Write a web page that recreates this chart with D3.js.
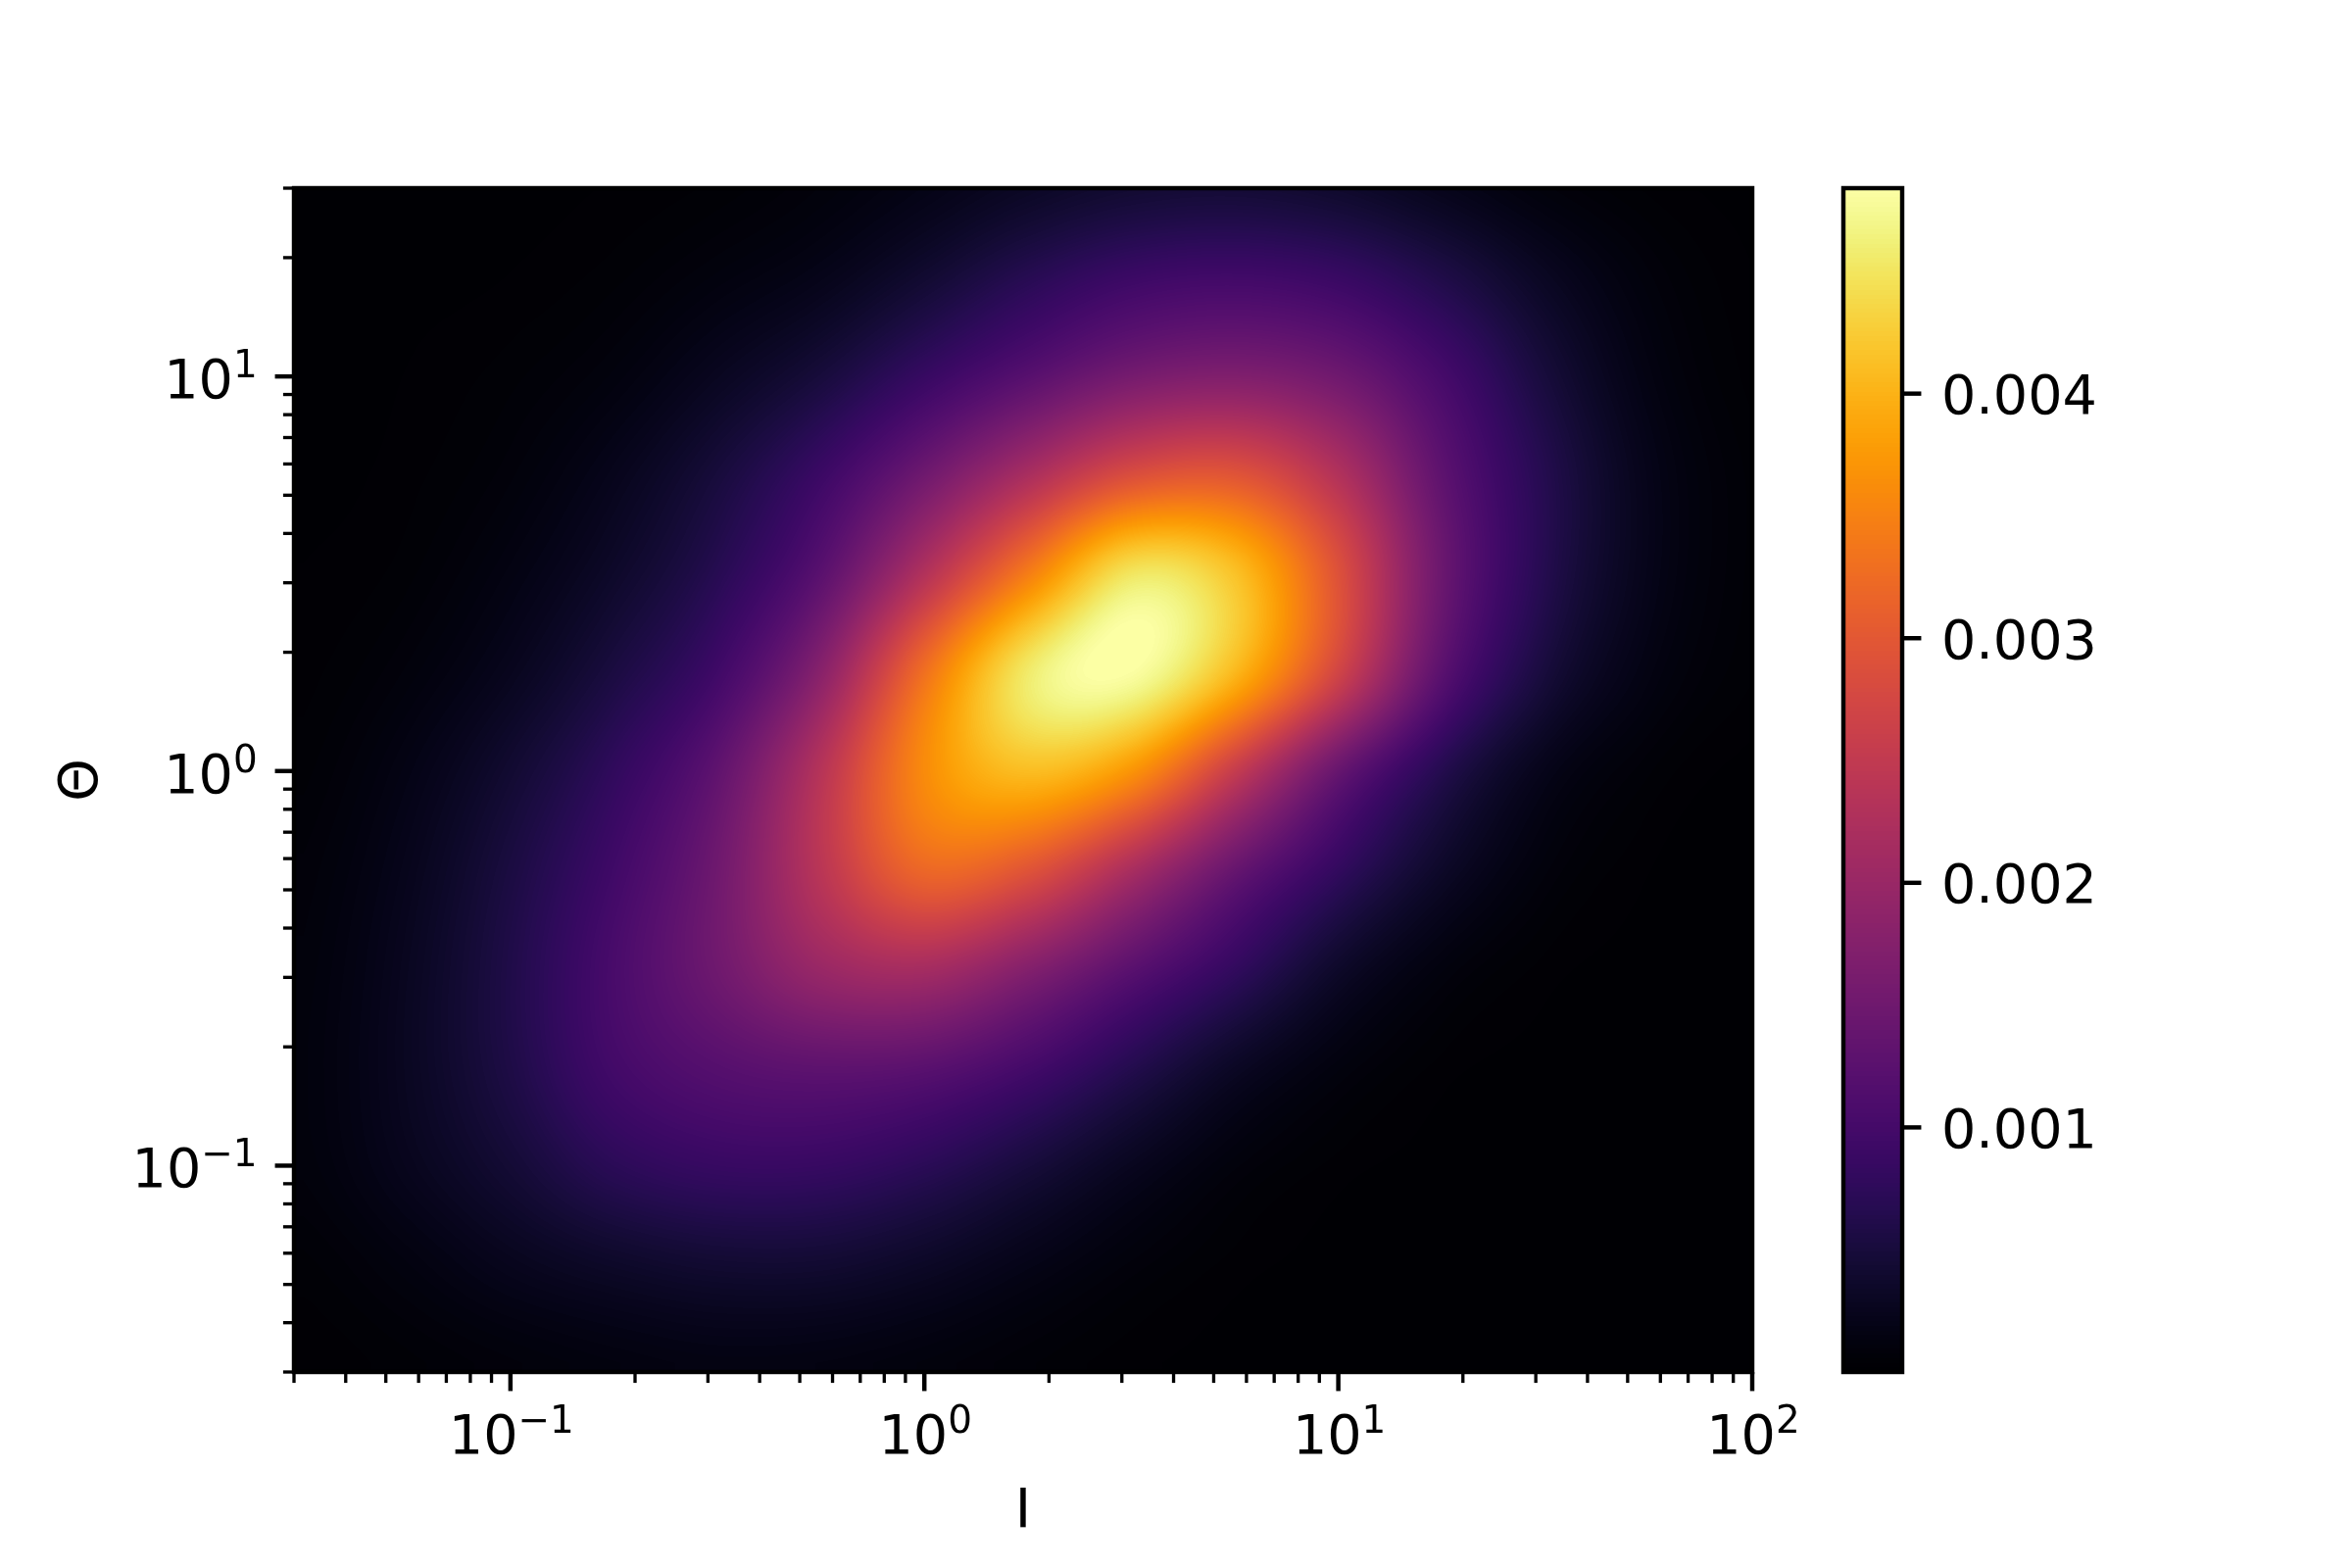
<!DOCTYPE html>
<html><head><meta charset="utf-8">
<script src="https://cdn.jsdelivr.net/npm/d3@7"></script>
<style>
html,body{margin:0;padding:0;background:#fff;width:2400px;height:1600px;overflow:hidden}
#wrap{position:relative;width:2400px;height:1600px}
canvas,svg{position:absolute;left:0;top:0}
text{font-family:"DejaVu Sans";fill:#000}
</style></head><body><div id="wrap"></div>
<script>
// Grid positions (log10 of l, log10 of theta) and values, in units of 1e-3
const logLValues = [-1.5,-1.25,-1,-0.75,-0.5,-0.25,0,0.25,0.5,0.75,1,1.25,1.5,1.75,2];
const logThetaValues = [1.5,1.25,1,0.75,0.5,0.25,0,-0.25,-0.5,-0.75,-1,-1.25,-1.5];
const density = [
 [0,0,.01,.02,.04,.09,.18,.3,.4,.43,.36,.22,.09,.03,.01],
 [0,.01,.02,.05,.12,.22,.42,.68,.9,.97,.87,.6,.3,.1,.02],
 [0,.02,.05,.12,.28,.5,.85,1.22,1.58,1.7,1.5,1.02,.5,.16,.03],
 [.01,.03,.09,.24,.5,.9,1.5,2.2,2.85,2.95,2.3,1.3,.65,.22,.05],
 [.02,.05,.16,.36,.68,1.25,2.3,3.45,4.5,4.15,2.9,1.45,.65,.22,.05],
 [.03,.1,.26,.54,.95,1.8,3.3,4.55,4.82,4.05,2.7,1.25,.5,.16,.04],
 [.05,.18,.42,.78,1.32,2.35,3.6,4.1,3.7,2.55,1.4,.65,.22,.06,.01],
 [.08,.24,.54,.95,1.5,2.4,3.2,2.95,2.2,1.4,.8,.35,.1,.02,0],
 [.1,.28,.6,1.05,1.5,2.0,2.15,1.75,1.25,.8,.36,.12,.03,.01,0],
 [.11,.29,.58,.98,1.2,1.3,1.25,1.0,.65,.32,.12,.03,.01,0,0],
 [.1,.25,.45,.72,.85,.85,.72,.5,.27,.1,.03,.01,0,0,0],
 [.05,.13,.25,.35,.42,.42,.33,.2,.09,.03,.01,0,0,0,0],
 [.02,.05,.09,.13,.16,.15,.11,.06,.025,.01,0,0,0,0,0]
];
const xLimits = [0.03,100];
const yLimits = [0.03,30];
const colorLimits = [0,4.84];
const xMajor = [0.1,1,10,100];
const yMajor = [0.1,1,10];
const logMultipliers = [2,3,4,5,6,7,8,9];
const decades = [0.01,0.1,1,10];
const colorbarTicks = [0.001,0.002,0.003,0.004];
const xLabel = "I", yLabel = "\u0398";

const W=2400,H=1600,L=300,R=1788,T=192,B=1400,CL=1881,CR=1941;
const FS=55.56, SUP=38.9, LW=4.44, MW=3.33, TL=19.44, TM=11.1, PAD=19.44;

const x=d3.scaleLog().domain(xLimits).range([L,R]);
const y=d3.scaleLog().domain(yLimits).range([B,T]);
const color=d3.scaleSequential(d3.interpolateInferno).domain(colorLimits);
const cbar=d3.scaleLinear().domain([colorLimits[0]/1000,colorLimits[1]/1000]).range([B,T]);
const colIndex=d3.scaleLinear().domain(d3.extent(logLValues)).range([0,logLValues.length-1]).clamp(true);
const rowIndex=d3.scaleLinear().domain([logThetaValues[0],logThetaValues[logThetaValues.length-1]]).range([0,logThetaValues.length-1]).clamp(true);

const wrap=d3.select("#wrap");
const canvas=wrap.append("canvas").attr("width",W).attr("height",H).node();
const ctx=canvas.getContext("2d");
ctx.fillStyle="#fff";ctx.fillRect(0,0,W,H);

// Paint-time smoothing of the grid, like a bicubic image display
function cr(a,b,c,d,t){return b+0.5*t*(c-a+t*(2*a-5*b+4*c-d+t*(3*(b-c)+d-a)));}
function sample(fr,fc){
  const r=Math.floor(fr),c=Math.floor(fc),tr=fr-r,tc=fc-c,rows=[];
  for(let i=-1;i<=2;i++){
    const row=density[Math.max(0,Math.min(density.length-1,r+i))];
    const p=j=>row[Math.max(0,Math.min(row.length-1,c+j))];
    rows.push(cr(p(-1),p(0),p(1),p(2),tc));
  }
  return Math.max(0,cr(rows[0],rows[1],rows[2],rows[3],tr));
}
const img=ctx.createImageData(R-L,B-T);
for(let py=T;py<B;py++){
  const fr=rowIndex(Math.log10(y.invert(py+0.5)));
  for(let px=L;px<R;px++){
    const fc=colIndex(Math.log10(x.invert(px+0.5)));
    const c=d3.rgb(color(sample(fr,fc)));
    const k=((py-T)*(R-L)+(px-L))*4;
    img.data[k]=c.r;img.data[k+1]=c.g;img.data[k+2]=c.b;img.data[k+3]=255;
  }
}
ctx.putImageData(img,L,T);
// Colorbar
for(let py=T;py<B;py++){
  ctx.fillStyle=color(cbar.invert(py+0.5)*1000);
  ctx.fillRect(CL,py,CR-CL,1);
}

const svg=wrap.append("svg").attr("width",W).attr("height",H);
function minors(lim){
  const out=[];
  decades.forEach(d=>logMultipliers.forEach(m=>{const v=d*m;if(v>=lim[0]*0.999&&v<=lim[1]*1.001)out.push(v);}));
  return out;
}
function styleAxis(g,w){
  g.select(".domain").remove();
  g.selectAll(".tick line").attr("stroke","#000").attr("stroke-width",w);
  g.selectAll(".tick text").remove();
}
svg.append("g").attr("transform",`translate(0,${B})`)
  .call(d3.axisBottom(x).tickValues(minors(xLimits)).tickSize(TM).tickFormat("").offset(0)).call(styleAxis,MW);
svg.append("g").attr("transform",`translate(0,${B})`)
  .call(d3.axisBottom(x).tickValues(xMajor).tickSize(TL).tickFormat("").offset(0)).call(styleAxis,LW);
svg.append("g").attr("transform",`translate(${L},0)`)
  .call(d3.axisLeft(y).tickValues(minors(yLimits)).tickSize(TM).tickFormat("").offset(0)).call(styleAxis,MW);
svg.append("g").attr("transform",`translate(${L},0)`)
  .call(d3.axisLeft(y).tickValues(yMajor).tickSize(TL).tickFormat("").offset(0)).call(styleAxis,LW);
svg.append("g").attr("transform",`translate(${CR},0)`)
  .call(d3.axisRight(cbar).tickValues(colorbarTicks).tickSize(TL).tickFormat("").offset(0)).call(styleAxis,LW);

// Frames
svg.append("rect").attr("x",L).attr("y",T).attr("width",R-L).attr("height",B-T)
  .attr("fill","none").attr("stroke","#000").attr("stroke-width",LW);
svg.append("rect").attr("x",CL).attr("y",T).attr("width",CR-CL).attr("height",B-T)
  .attr("fill","none").attr("stroke","#000").attr("stroke-width",LW);

// Power-of-ten labels
const DIGIT=0.636*FS, SDIGIT=0.636*SUP, SMINUS=0.838*SUP;
function power(v){
  const e=Math.round(Math.log10(v));
  return {e:String(Math.abs(e)),neg:e<0};
}
function powerLabel(px,baseline,v,anchor){
  const p=power(v);
  const width=2*DIGIT+(p.neg?SMINUS:0)+SDIGIT;
  const start=anchor==="end"?px-width:px-width/2;
  const g=svg.append("g");
  g.append("text").attr("x",start).attr("y",baseline).attr("font-size",FS).text("10");
  g.append("text").attr("x",start+2*DIGIT).attr("y",baseline-21).attr("font-size",SUP)
    .text((p.neg?"\u2212":"")+p.e);
}
xMajor.forEach(v=>powerLabel(x(v)+1,1483,v,"middle"));
yMajor.forEach(v=>powerLabel(L-TL-PAD+1.5,y(v)+22,v,"end"));
colorbarTicks.forEach(v=>{
  svg.append("text").attr("x",CR+TL+PAD+1).attr("y",cbar(v)+20.5).attr("font-size",FS).text(d3.format(".3f")(v));
});
svg.append("text").attr("x",(L+R)/2).attr("y",1558).attr("text-anchor","middle").attr("font-size",FS).text(xLabel);
svg.append("text").attr("transform",`translate(99,${(T+B)/2}) rotate(-90)`).attr("text-anchor","middle").attr("font-size",FS).text(yLabel);
</script></body></html>
